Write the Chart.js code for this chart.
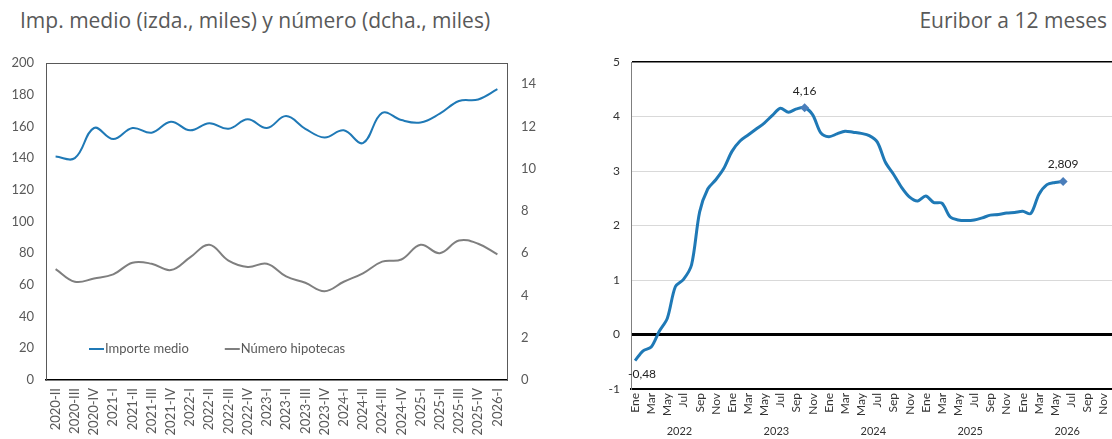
<!DOCTYPE html>
<html lang="es">
<head>
<meta charset="utf-8">
<script src="https://cdn.jsdelivr.net/npm/chart.js@4.4.1/dist/chart.umd.min.js"></script>
<style>
  html, body { margin: 0; padding: 0; background: #fff; }
  body { width: 1112px; height: 439px; overflow: hidden; position: relative; }
  .title { position: absolute; top: 6px; font-family: 'Open Sans', sans-serif; font-size: 21px; line-height: 28px; color: #595959; white-space: nowrap; }
  #t1 { left: 20px; }
  #t2 { right: 5px; }
  .box { position: absolute; top: 0; height: 439px; }
  #b1 { left: 0; width: 560px; }
  #b2 { left: 560px; width: 570px; }
</style>
</head>
<body>
<div class="title" id="t1">Imp. medio (izda., miles) y número (dcha., miles)</div>
<div class="title" id="t2">Euribor a 12 meses</div>
<div class="box" id="b1"><canvas id="c1"></canvas></div>
<div class="box" id="b2"><canvas id="c2"></canvas></div>
<script>
// ---- Hipotecas: datos trimestrales ----
const trimestres = ['2020-II','2020-III','2020-IV','2021-I','2021-II','2021-III','2021-IV',
  '2022-I','2022-II','2022-III','2022-IV','2023-I','2023-II','2023-III','2023-IV',
  '2024-I','2024-II','2024-III','2024-IV','2025-I','2025-II','2025-III','2025-IV','2026-I'];
// importe medio, miles de euros (eje izquierdo)
const importeMedio = [141, 140, 159, 152, 159, 156, 163, 157.5, 162, 158.5, 164.5, 159,
  166.5, 158.5, 153, 157.5, 149.5, 168.5, 164, 162.5, 168, 176, 177, 183.5];
// número de hipotecas, miles (eje derecho)
const numeroHipotecas = [5.25, 4.65, 4.8, 5.0, 5.55, 5.5, 5.2, 5.8, 6.4, 5.65, 5.35, 5.5,
  4.9, 4.6, 4.2, 4.65, 5.05, 5.6, 5.7, 6.4, 6.0, 6.6, 6.45, 5.95];
const ejeImporte = { min: 0, max: 200, step: 20 };
const ejeNumero = { min: 0, max: 15, step: 2 };

// ---- Euribor a 12 meses: medias mensuales ----
const meses = ['Ene','Feb','Mar','Abr','May','Jun','Jul','Ago','Sep','Oct','Nov','Dic'];
const anios = [2022, 2023, 2024, 2025, 2026];
const euribor = [
  -0.48, -0.30, -0.23, 0.06, 0.30, 0.88, 1.01, 1.28, 2.25, 2.67, 2.84, 3.05,
  3.36, 3.55, 3.66, 3.77, 3.88, 4.02, 4.15, 4.08, 4.14, 4.16, 4.03, 3.70,
  3.63, 3.68, 3.73, 3.71, 3.69, 3.65, 3.53, 3.16, 2.94, 2.70, 2.52, 2.45,
  2.54, 2.42, 2.41, 2.16, 2.10, 2.09, 2.10, 2.14, 2.19, 2.20, 2.23, 2.24,
  2.26, 2.22, 2.57, 2.75, 2.79, 2.809
];
const ejeEuribor = { min: -1, max: 5, step: 1 };
// puntos con valor rotulado (índice en la serie y lado del rótulo)
const rotulos = [ { i: 0, lado: 'abajo' }, { i: 21, lado: 'arriba' }, { i: 53, lado: 'arriba' } ];
const marcadores = [21, 53];

const mesesEtiquetas = [];
anios.forEach(a => meses.forEach(m => mesesEtiquetas.push(m + ' ' + a)));

const FONT = 'Lato, "Open Sans", sans-serif';
const AZUL = '#1f79b6';
const GRIS = '#7f7f7f';

// línea superior del marco del área de trazado
const marcoSuperior = {
  id: 'marcoSuperior',
  beforeDatasetsDraw(chart, args, o) {
    const { ctx, chartArea: a } = chart;
    ctx.save();
    ctx.strokeStyle = o.color;
    ctx.lineWidth = 1;
    ctx.beginPath();
    ctx.moveTo(a.left, a.top + 0.5);
    ctx.lineTo(a.right, a.top + 0.5);
    ctx.stroke();
    ctx.restore();
  }
};

// leyenda dentro del área de trazado, abajo a la izquierda
const leyendaInterior = {
  id: 'leyendaInterior',
  afterDatasetsDraw(chart, args, o) {
    const { ctx, chartArea: a } = chart;
    ctx.save();
    ctx.font = '13px ' + FONT;
    ctx.textBaseline = 'middle';
    ctx.textAlign = 'left';
    let x = a.left + o.dx;
    const y = a.bottom - o.dy;
    chart.data.datasets.forEach(ds => {
      ctx.strokeStyle = ds.borderColor;
      ctx.lineWidth = 2;
      ctx.beginPath();
      ctx.moveTo(x, y);
      ctx.lineTo(x + 15, y);
      ctx.stroke();
      x += 16;
      ctx.fillStyle = o.color;
      ctx.fillText(ds.label, x, y);
      x += ctx.measureText(ds.label).width + o.gap;
    });
    ctx.restore();
  }
};

// rótulos de valor sobre los puntos señalados
const rotulosValor = {
  id: 'rotulosValor',
  afterDatasetsDraw(chart) {
    const { ctx } = chart;
    const meta = chart.getDatasetMeta(0);
    const datos = chart.data.datasets[0].data;
    ctx.save();
    ctx.font = '12px ' + FONT;
    ctx.fillStyle = '#222';
    ctx.textAlign = 'center';
    ctx.textBaseline = 'middle';
    rotulos.forEach(r => {
      const p = meta.data[r.i];
      const txt = String(datos[r.i]).replace('.', ',');
      if (r.lado === 'abajo') ctx.fillText(txt, p.x + 7, p.y + 13);
      else ctx.fillText(txt, p.x, p.y - 17);
    });
    ctx.restore();
  }
};

// años centrados bajo cada grupo de meses
const etiquetasAnio = {
  id: 'etiquetasAnio',
  afterDraw(chart) {
    const { ctx } = chart;
    const sx = chart.scales.x;
    ctx.save();
    ctx.font = '11px ' + FONT;
    ctx.fillStyle = '#333';
    ctx.textAlign = 'center';
    ctx.textBaseline = 'middle';
    anios.forEach((a, k) => {
      const c = (sx.getPixelForValue(k * 12) + sx.getPixelForValue(k * 12 + 11)) / 2;
      ctx.fillText(String(a), c, sx.bottom - 8);
    });
    ctx.restore();
  }
};

new Chart(document.getElementById('c1'), {
  type: 'line',
  data: {
    labels: trimestres,
    datasets: [
      { label: 'Importe medio', data: importeMedio, yAxisID: 'y', borderColor: AZUL, borderWidth: 2, pointRadius: 0, tension: 0.4, fill: false },
      { label: 'Número hipotecas', data: numeroHipotecas, yAxisID: 'y1', borderColor: GRIS, borderWidth: 2, pointRadius: 0, tension: 0.4, fill: false }
    ]
  },
  options: {
    responsive: true,
    maintainAspectRatio: false,
    animation: false,
    events: [],
    layout: { padding: { top: 63, left: 0, right: 0, bottom: 0 } },
    plugins: {
      legend: { display: false },
      tooltip: { enabled: false },
      marcoSuperior: { color: '#595959' },
      leyendaInterior: { dx: 43, dy: 31, gap: 36, color: '#595959' }
    },
    scales: {
      x: {
        offset: true,
        grid: { display: false, drawTicks: false },
        border: { display: true, color: '#000', width: 1.5 },
        ticks: { autoSkip: false, maxRotation: 90, minRotation: 90, padding: 8, color: '#595959', font: { family: FONT, size: 13 } },
        afterFit: s => { s.height = 59; }
      },
      y: {
        position: 'left',
        min: ejeImporte.min, max: ejeImporte.max,
        grid: { display: false, drawTicks: false },
        border: { display: true, color: '#595959', width: 1 },
        ticks: { stepSize: ejeImporte.step, padding: 12, color: '#595959', font: { family: FONT, size: 13 } },
        afterFit: s => { s.width = 46; }
      },
      y1: {
        position: 'right',
        min: ejeNumero.min, max: ejeNumero.max,
        grid: { display: false, drawTicks: false },
        border: { display: true, color: '#595959', width: 1 },
        ticks: { stepSize: ejeNumero.step, includeBounds: false, padding: 14, color: '#595959', font: { family: FONT, size: 13 } },
        afterFit: s => { s.width = 53; }
      }
    }
  },
  plugins: [marcoSuperior, leyendaInterior]
});

new Chart(document.getElementById('c2'), {
  type: 'line',
  data: {
    labels: mesesEtiquetas,
    datasets: [{
      label: 'Euribor a 12 meses',
      data: euribor,
      borderColor: AZUL,
      borderWidth: 3,
      tension: 0.3,
      fill: false,
      pointStyle: 'rectRot',
      pointRadius: c => marcadores.includes(c.dataIndex) ? 4.5 : 0,
      pointBackgroundColor: '#4a7ebb',
      pointBorderColor: '#4a7ebb',
      pointBorderWidth: 0
    }]
  },
  options: {
    responsive: true,
    maintainAspectRatio: false,
    animation: false,
    events: [],
    layout: { padding: { top: 62, left: 0, right: 0, bottom: 0 } },
    plugins: {
      legend: { display: false },
      tooltip: { enabled: false }
    },
    scales: {
      x: {
        offset: true,
        grid: { display: false, drawTicks: false },
        border: { display: true, color: '#000', width: 2 },
        ticks: {
          autoSkip: false, maxRotation: 90, minRotation: 90, padding: 4,
          color: '#333', font: { family: FONT, size: 12 },
          callback: (v, i) => (i % 2 === 0 ? meses[i % 12] : '')
        },
        afterFit: s => { s.height = 50; }
      },
      y: {
        min: ejeEuribor.min, max: ejeEuribor.max,
        grid: {
          drawTicks: false,
          color: c => c.tick.value === 0 || c.tick.value === ejeEuribor.max ? '#000'
            : (c.tick.value === ejeEuribor.min ? 'rgba(0,0,0,0)' : '#d9d9d9'),
          lineWidth: c => c.tick.value === 0 ? 3 : (c.tick.value === ejeEuribor.max ? 1.5 : 1)
        },
        border: { display: true, color: '#7f7f7f', width: 1 },
        ticks: { stepSize: ejeEuribor.step, padding: 11, color: '#333', font: { family: FONT, size: 12 } },
        afterFit: s => { s.width = 71; }
      }
    }
  },
  plugins: [rotulosValor, etiquetasAnio]
});
</script>
</body>
</html>
